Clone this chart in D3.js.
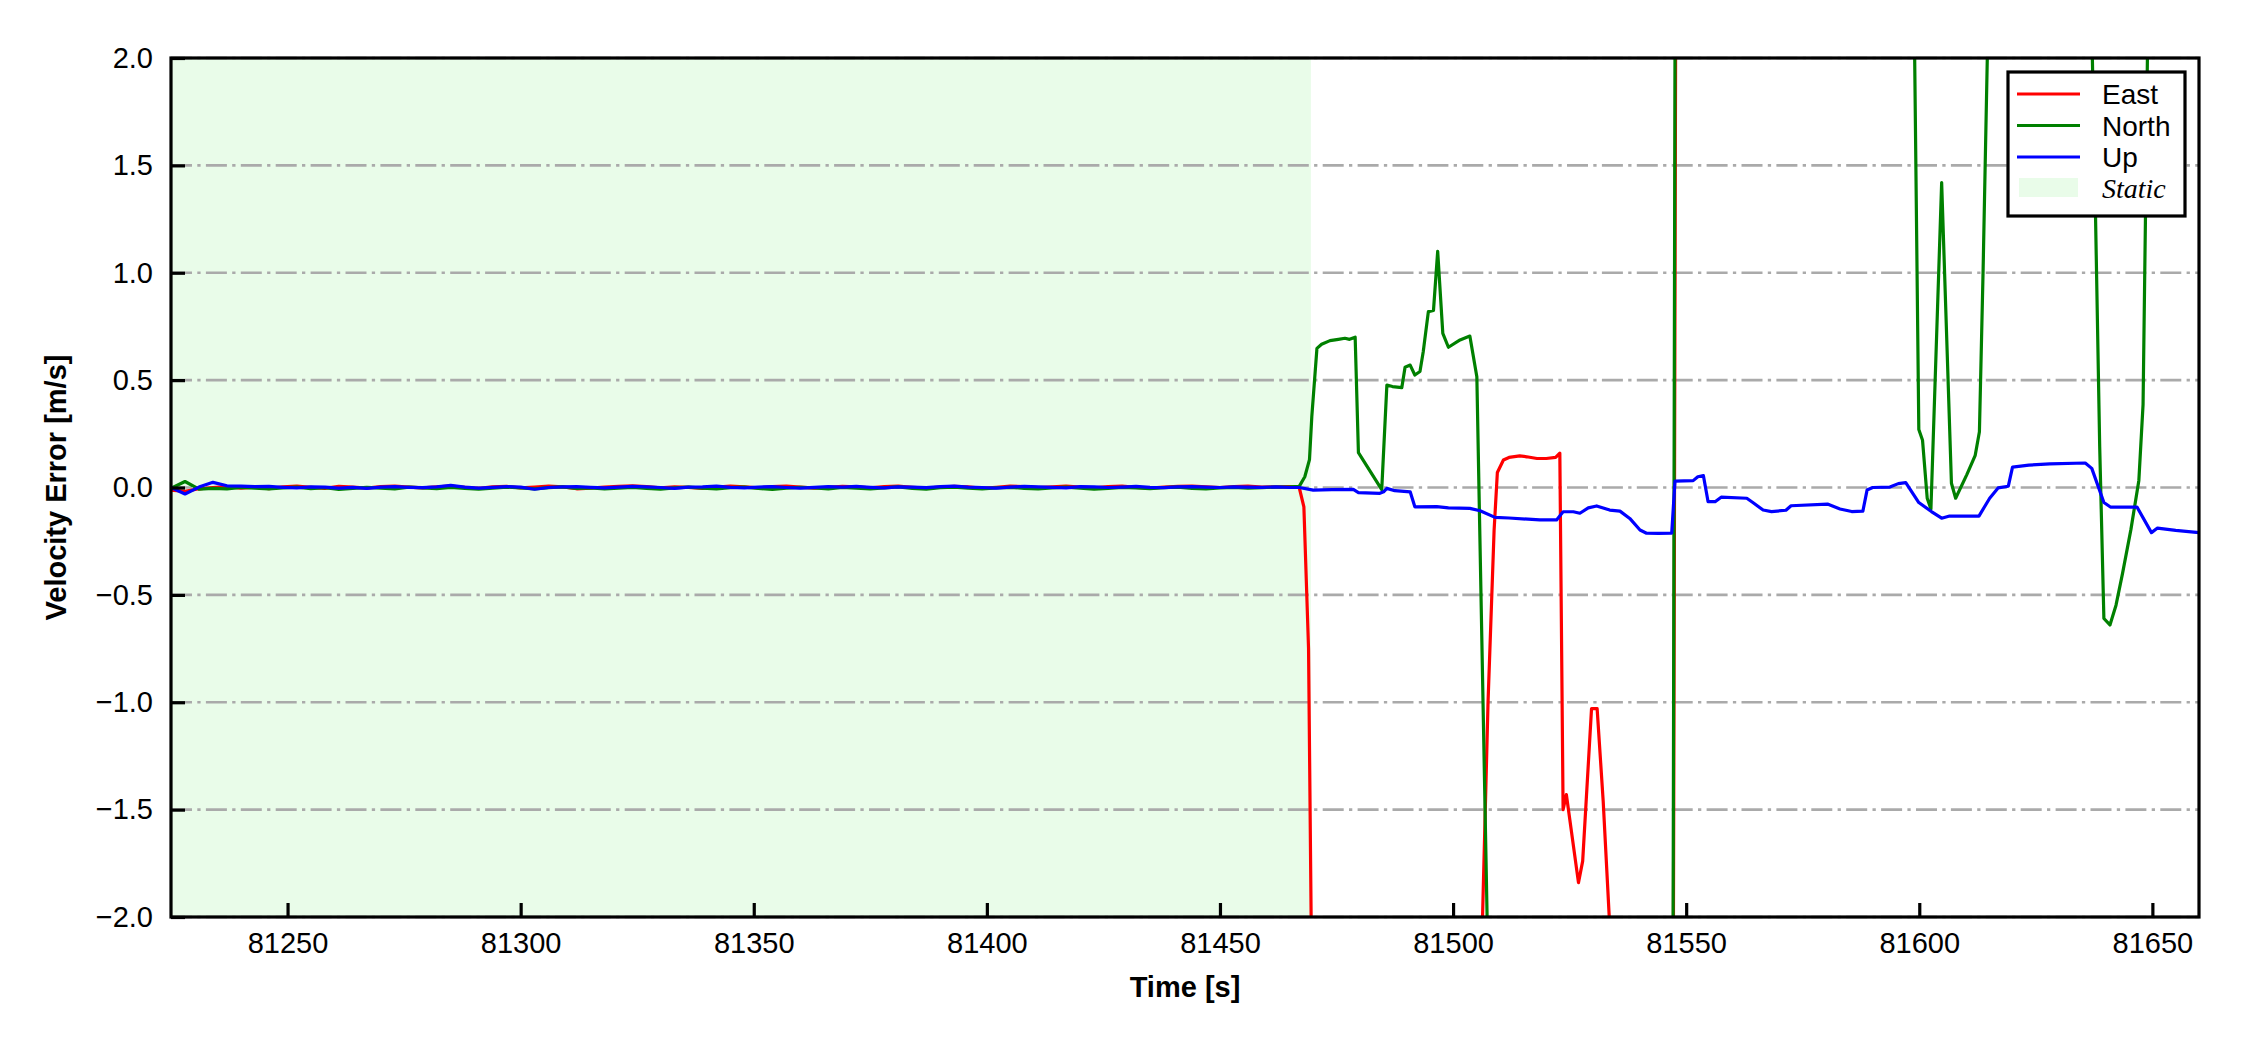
<!DOCTYPE html>
<html>
<head>
<meta charset="utf-8">
<script src="https://cdn.jsdelivr.net/npm/d3@7"></script>
<style>
  body { margin: 0; background: #fff; }
  svg { display: block; font-family: "Liberation Sans", Arial, sans-serif; }
</style>
</head>
<body>
<svg id="chart" width="2250" height="1050"></svg>
<script>
// sample times during the static period
const staticT = [
  81225, 81228, 81231, 81234, 81237, 81240, 81243, 81246, 81249, 81252,
  81255, 81258, 81261, 81264, 81267, 81270, 81273, 81276, 81279, 81282,
  81285, 81288, 81291, 81294, 81297, 81300, 81303, 81306, 81309, 81312,
  81315, 81318, 81321, 81324, 81327, 81330, 81333, 81336, 81339, 81342,
  81345, 81348, 81351, 81354, 81357, 81360, 81363, 81366, 81369, 81372,
  81375, 81378, 81381, 81384, 81387, 81390, 81393, 81396, 81399, 81402,
  81405, 81408, 81411, 81414, 81417, 81420, 81423, 81426, 81429, 81432,
  81435, 81438, 81441, 81444, 81447, 81450, 81453, 81456, 81459, 81462,
  81465
];

const eastStatic = [
  -0.012, -0.018, -0.006, 0.000, 0.004, -0.003, 0.002, -0.005, 0.003, 0.006,
  0.001, -0.004, 0.005, 0.002, -0.003, 0.004, 0.007, 0.002, -0.002, 0.003,
  0.006, 0.001, -0.004, 0.003, 0.005, -0.002, 0.002, 0.006, 0.003, -0.006,
  -0.003, 0.002, 0.005, 0.008, 0.004, -0.002, 0.003, 0.001, -0.004, 0.002,
  0.006, 0.003, -0.002, 0.004, 0.007, 0.002, -0.003, 0.001, 0.005, 0.003,
  -0.002, 0.004, 0.006, 0.001, -0.003, 0.002, 0.005, 0.003, -0.004, 0.001,
  0.006, 0.004, -0.001, 0.003, 0.007, 0.002, -0.002, 0.004, 0.006, 0.001,
  -0.003, 0.002, 0.005, 0.007, 0.003, 0.000, 0.004, 0.006, 0.002, 0.003,
  0.004
];

const northStatic = [
  -0.004, 0.028, -0.008, -0.004, -0.006, 0.001, -0.003, -0.007, -0.002, 0.002,
  -0.005, -0.001, -0.009, -0.004, 0.001, -0.003, -0.006, 0.002, -0.002, -0.005,
  0.000, -0.004, -0.008, -0.003, 0.002, -0.002, -0.006, -0.001, 0.003, -0.004,
  -0.002, -0.007, -0.003, 0.001, -0.004, -0.008, -0.002, 0.002, -0.003, -0.006,
  -0.001, 0.002, -0.004, -0.009, -0.003, 0.001, -0.002, -0.006, 0.000, -0.003,
  -0.007, -0.002, 0.003, -0.004, -0.008, -0.001, 0.002, -0.003, -0.006, -0.002,
  0.001, -0.004, -0.007, -0.002, 0.002, -0.003, -0.008, -0.004, 0.001, -0.002,
  -0.005, -0.001, 0.002, -0.004, -0.006, -0.002, 0.001, -0.003, -0.001, 0.002,
  0.003
];

const upStatic = [
  0.000, -0.030, 0.002, 0.024, 0.008, 0.006, 0.004, 0.005, 0.001, -0.002,
  0.003, 0.002, -0.003, 0.001, -0.004, 0.002, 0.004, 0.001, -0.001, 0.003,
  0.010, 0.002, -0.003, 0.001, 0.004, 0.002, -0.008, 0.000, 0.003, 0.004,
  0.001, -0.002, 0.002, 0.005, 0.003, 0.000, -0.004, 0.002, 0.003, 0.006,
  0.001, -0.002, 0.002, 0.004, 0.000, -0.003, 0.001, 0.004, 0.002, 0.005,
  0.001, -0.002, 0.003, 0.002, -0.001, 0.004, 0.006, 0.002, 0.000, -0.003,
  0.002, 0.005, 0.003, 0.001, -0.002, 0.004, 0.003, 0.000, 0.002, 0.005,
  0.001, -0.001, 0.003, 0.004, 0.002, 0.000, 0.003, 0.002, 0.001, 0.003,
  0.000
];

// [time, value] after the vehicle starts moving (values beyond +-2 are off the plot)
const eastMoving = [
  [81467, 0.000], [81468, -0.09], [81469, -0.75], [81470, -3.0], [81480, -3.2],
  [81490, -3.4], [81500, -3.3], [81505.5, -2.7], [81507.5, -1.0], [81508.8, -0.2],
  [81509.5, 0.07], [81510.8, 0.128], [81512, 0.14], [81514.3, 0.147], [81515.8, 0.143],
  [81518, 0.135], [81520, 0.135], [81522, 0.14], [81522.9, 0.16], [81523.6, -1.5],
  [81524.3, -1.43], [81526.9, -1.84], [81527.8, -1.74], [81529.7, -1.03], [81530.9, -1.03],
  [81532.2, -1.46], [81533.5, -2.0], [81535, -2.6], [81540, -3.5], [81547.1, -3.5],
  [81547.9, 3.5], [81600, 3.6], [81660, 3.5]
];

const northMoving = [
  [81467, 0.005], [81468.2, 0.05], [81469.2, 0.13], [81469.7, 0.33], [81470.8, 0.648],
  [81471.8, 0.667], [81473.6, 0.684], [81475.4, 0.69], [81476.8, 0.695], [81477.8, 0.69],
  [81479, 0.70], [81479.7, 0.162], [81484.7, -0.01], [81485.8, 0.477], [81487, 0.47],
  [81489, 0.465], [81489.7, 0.56], [81490.8, 0.57], [81491.8, 0.524], [81492.9, 0.54],
  [81493.6, 0.632], [81494.7, 0.819], [81495.8, 0.825], [81496.7, 1.10], [81497.8, 0.718],
  [81499, 0.653], [81501.5, 0.687], [81503.6, 0.705], [81505.1, 0.516], [81508, -2.8],
  [81520, -4.0], [81547.0, -4.0], [81547.8, 4.0], [81570, 4.2], [81598.5, 3.0],
  [81599.9, 0.27], [81600.7, 0.22], [81601.7, -0.05], [81602.5, -0.10], [81604.8, 1.42],
  [81606.9, 0.02], [81607.8, -0.05], [81610.2, 0.06], [81612, 0.15], [81612.9, 0.26],
  [81613.7, 1.02], [81615.5, 3.0], [81625, 4.0], [81636.2, 3.0], [81637.8, 1.27],
  [81638.7, 0.19], [81639.6, -0.61], [81640.9, -0.64], [81642.2, -0.548], [81643.6, -0.40],
  [81645.4, -0.195], [81647.1, 0.033], [81648, 0.386], [81648.5, 1.23], [81649.5, 3.0],
  [81660, 3.5]
];

const upMoving = [
  [81467, 0.000], [81470, -0.012], [81474, -0.010], [81478.6, -0.009], [81479.7, -0.024],
  [81484.3, -0.027], [81485.1, -0.020], [81485.8, -0.004], [81487.5, -0.015], [81490.8, -0.020],
  [81491.8, -0.090], [81496.5, -0.089], [81499, -0.095], [81503.6, -0.097], [81505.8, -0.108],
  [81509, -0.139], [81512, -0.142], [81518.6, -0.151], [81522.2, -0.151], [81523.6, -0.113],
  [81525.8, -0.113], [81527.2, -0.120], [81529, -0.095], [81530.8, -0.086], [81533.6, -0.105],
  [81535.8, -0.110], [81537.9, -0.144], [81540.1, -0.198], [81541.5, -0.213], [81544, -0.214],
  [81546.9, -0.213], [81547.6, 0.030], [81551.5, 0.032], [81552.5, 0.050], [81553.7, 0.055],
  [81554.7, -0.066], [81556.2, -0.066], [81557.5, -0.045], [81563, -0.050], [81564.3, -0.070],
  [81566.5, -0.105], [81568.3, -0.112], [81571.4, -0.106], [81572.5, -0.085], [81580.3, -0.077],
  [81583, -0.100], [81585.5, -0.112], [81587.9, -0.110], [81588.8, -0.012], [81590, 0.000],
  [81593.7, 0.002], [81595.5, 0.018], [81597.1, 0.023], [81599.9, -0.070], [81602.6, -0.112],
  [81604.8, -0.143], [81606.5, -0.133], [81612.8, -0.133], [81615.1, -0.050], [81616.9, -0.002],
  [81619.1, 0.006], [81620, 0.095], [81623.5, 0.104], [81628, 0.110], [81635.6, 0.114],
  [81637, 0.089], [81639.6, -0.070], [81641, -0.091], [81646.7, -0.091], [81649.8, -0.210],
  [81651.1, -0.189], [81655, -0.200], [81660, -0.210]
];

const staticSpan = [81225, 81469.5];
const xTicks = [81250, 81300, 81350, 81400, 81450, 81500, 81550, 81600, 81650];
const yTicks = [-2.0, -1.5, -1.0, -0.5, 0.0, 0.5, 1.0, 1.5, 2.0];

const series = [
  { name: 'East', color: '#ff0000', values: staticT.map((t, i) => [t, eastStatic[i]]).concat(eastMoving) },
  { name: 'North', color: '#008000', values: staticT.map((t, i) => [t, northStatic[i]]).concat(northMoving) },
  { name: 'Up', color: '#0000ff', values: staticT.map((t, i) => [t, upStatic[i]]).concat(upMoving) }
];

const svg = d3.select('#chart');
const margin = { top: 58, right: 51, bottom: 133, left: 171 };
const width = 2250 - margin.left - margin.right;
const height = 1050 - margin.top - margin.bottom;
const staticColor = 'rgb(233,252,233)';

const x = d3.scaleLinear().domain([81225, 81660]).range([0, width]);
const y = d3.scaleLinear().domain([-2, 2]).range([height, 0]);

const g = svg.append('g').attr('transform', `translate(${margin.left},${margin.top})`);

svg.append('defs').append('clipPath').attr('id', 'plot-clip')
  .append('rect').attr('width', width).attr('height', height);

// static period shading
g.append('rect')
  .attr('x', x(staticSpan[0]))
  .attr('width', x(staticSpan[1]) - x(staticSpan[0]))
  .attr('y', 0)
  .attr('height', height)
  .attr('fill', staticColor);

// dash-dot grid
g.append('g').selectAll('line')
  .data(yTicks)
  .join('line')
  .attr('x1', 0).attr('x2', width)
  .attr('y1', d => y(d)).attr('y2', d => y(d))
  .attr('stroke', '#aaaaaa')
  .attr('stroke-width', 2.6)
  .attr('stroke-dasharray', '21,5.3,3.3,5.3');

const line = d3.line().x(d => x(d[0])).y(d => y(d[1]));

g.append('g').attr('clip-path', 'url(#plot-clip)')
  .selectAll('path')
  .data(series)
  .join('path')
  .attr('fill', 'none')
  .attr('stroke', d => d.color)
  .attr('stroke-width', 3.2)
  .attr('stroke-linejoin', 'round')
  .attr('d', d => line(d.values));

// axes, ticks pointing inward
const xAxis = g.append('g')
  .attr('transform', `translate(0,${height})`)
  .call(d3.axisBottom(x).tickValues(xTicks).tickFormat(d3.format('d')).tickSizeInner(-14).tickSizeOuter(0).tickPadding(15));
const yAxis = g.append('g')
  .call(d3.axisLeft(y).tickValues(yTicks).tickFormat(d3.format('.1f')).tickSizeInner(-14).tickSizeOuter(0).tickPadding(18));

[xAxis, yAxis].forEach(a => {
  a.select('.domain').remove();
  a.selectAll('.tick line').attr('stroke', '#000').attr('stroke-width', 3.2);
  a.selectAll('.tick text').attr('font-size', 29).attr('fill', '#000')
    .attr('font-family', '"Liberation Sans", Arial, sans-serif');
});

g.append('rect')
  .attr('width', width).attr('height', height)
  .attr('fill', 'none').attr('stroke', '#000').attr('stroke-width', 3.2);

// axis titles
svg.append('text')
  .attr('x', margin.left + width / 2)
  .attr('y', 997)
  .attr('text-anchor', 'middle')
  .attr('font-size', 29).attr('font-weight', 'bold')
  .text('Time [s]');

svg.append('text')
  .attr('transform', `translate(66,${margin.top + height / 2}) rotate(-90)`)
  .attr('text-anchor', 'middle')
  .attr('font-size', 29).attr('font-weight', 'bold')
  .text('Velocity Error [m/s]');

// legend
const legend = svg.append('g').attr('transform', 'translate(2008,72)');
legend.append('rect')
  .attr('width', 177).attr('height', 144)
  .attr('fill', '#fff').attr('stroke', '#000').attr('stroke-width', 3.2);

series.forEach((s, i) => {
  const cy = 22 + i * 31.5;
  legend.append('line')
    .attr('x1', 9).attr('x2', 72).attr('y1', cy).attr('y2', cy)
    .attr('stroke', s.color).attr('stroke-width', 3.2);
  legend.append('text')
    .attr('x', 94).attr('y', cy + 10)
    .attr('font-size', 28)
    .text(s.name);
});

legend.append('rect')
  .attr('x', 11).attr('y', 106).attr('width', 59).attr('height', 19)
  .attr('fill', staticColor);
legend.append('text')
  .attr('x', 94).attr('y', 126)
  .attr('font-size', 28)
  .attr('font-family', '"Liberation Serif", "Times New Roman", serif')
  .attr('font-style', 'italic')
  .text('Static');
</script>
</body>
</html>
